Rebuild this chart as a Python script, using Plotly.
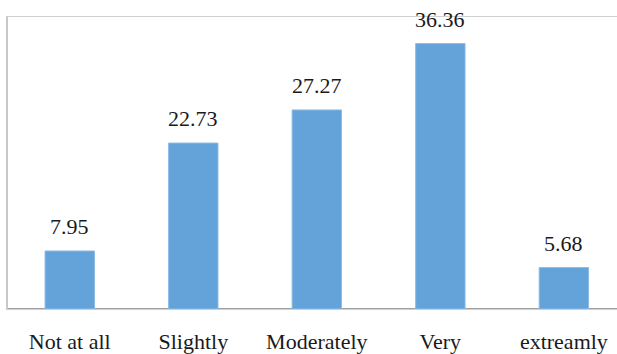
import plotly.graph_objects as go

categories = ["Not at all", "Slightly", "Moderately", "Very", "extreamly"]
values = [7.95, 22.73, 27.27, 36.36, 5.68]
value_labels = ["7.95", "22.73", "27.27", "36.36", "5.68"]

serif = "Times New Roman, Liberation Serif, DejaVu Serif, serif"

fig = go.Figure()
fig.add_trace(go.Bar(
    x=list(range(len(categories))),
    y=values,
    marker=dict(color="#64A3DA", line=dict(color="#8DBBE6", width=1)),
    width=0.40,
    hoverinfo="skip",
))

for i, (v, t) in enumerate(zip(values, value_labels)):
    fig.add_annotation(
        x=i, y=v, text=t, showarrow=False, yanchor="bottom", yshift=10,
        font=dict(family=serif, size=22, color="#1a1a1a"),
    )

fig.update_layout(
    width=617, height=354,
    margin=dict(l=8, r=0, t=17, b=42),
    paper_bgcolor="white", plot_bgcolor="white",
    showlegend=False,
    font=dict(family=serif),
)
fig.update_xaxes(
    tickmode="array", tickvals=list(range(len(categories))), ticktext=categories,
    range=[-0.5, 4.43],
    showline=True, mirror=True, linecolor="#D0D0D0", linewidth=1,
    showgrid=False, zeroline=False,
    ticks="", ticklabelstandoff=13,
    tickfont=dict(family=serif, size=22, color="#1a1a1a"),
)
fig.update_yaxes(
    range=[0, 40], showticklabels=False,
    showgrid=False,
    zeroline=True, zerolinecolor="#A0A0A0", zerolinewidth=1.5,
    showline=True, linecolor="#C8C8C8", linewidth=1.5,
)

fig.write_html("out.html")
